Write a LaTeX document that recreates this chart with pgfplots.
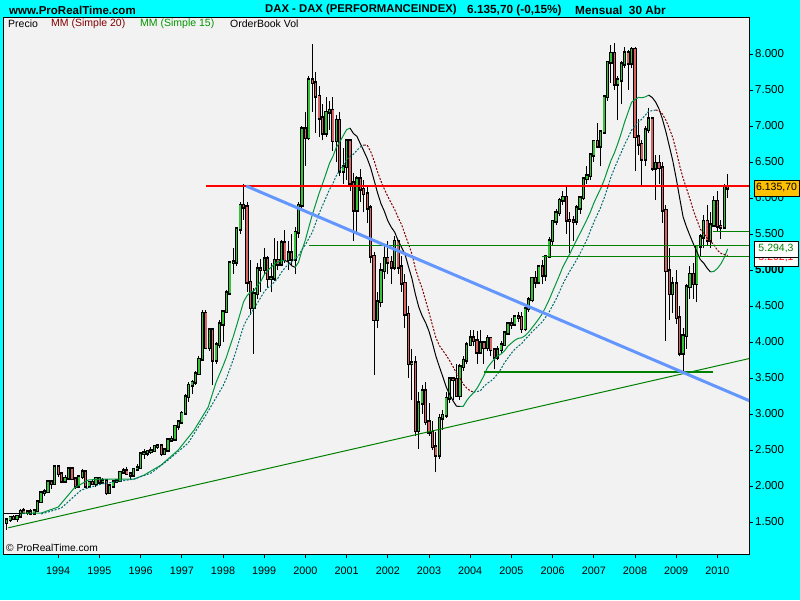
\documentclass[border=0pt]{standalone}
\usepackage{pgfplots}
\pgfplotsset{compat=1.18}
\usepackage{pgfplotstable}
\usepackage{fontspec}
\setmainfont{Liberation Sans}
\definecolor{bgcyan}{RGB}{0,255,255}
\definecolor{plotbg}{RGB}{242,242,242}
\definecolor{cgreen}{RGB}{55,195,55}
\definecolor{cred}{RGB}{215,100,100}
\definecolor{magreen}{RGB}{0,150,60}
\definecolor{mateal}{RGB}{0,110,110}
\definecolor{madred}{RGB}{128,0,0}
\definecolor{lgreen}{RGB}{0,128,0}
\definecolor{lblue}{RGB}{100,150,255}
\definecolor{lorange}{RGB}{255,192,0}
\definecolor{legred}{RGB}{128,0,0}
\definecolor{leggreen}{RGB}{0,150,0}

\pgfplotstableread{
t o h l c
1992.750 1490 1560 1390 1530
1992.833 1530 1590 1500 1565
1992.917 1565 1600 1530 1545
1993.000 1545 1590 1500 1580
1993.083 1580 1680 1570 1650
1993.167 1660 1700 1610 1630
1993.250 1630 1670 1600 1645
1993.333 1645 1680 1610 1625
1993.417 1625 1680 1610 1660
1993.500 1660 1790 1650 1780
1993.583 1780 1920 1770 1905
1993.667 1905 1960 1860 1920
1993.750 1920 2080 1900 2055
1993.833 2055 2080 1960 2030
1993.917 2030 2290 2020 2267
1994.000 2267 2290 2120 2170
1994.083 2170 2200 2040 2070
1994.167 2070 2150 2050 2110
1994.250 2110 2270 2080 2240
1994.333 2240 2260 2080 2100
1994.417 2100 2130 1960 2000
1994.500 2000 2150 1980 2130
1994.583 2130 2230 2100 2200
1994.667 2200 2210 1980 2000
1994.750 2000 2070 1970 2050
1994.833 2050 2090 2010 2030
1994.917 2030 2120 1990 2107
1995.000 2107 2120 2020 2050
1995.083 2050 2110 2030 2070
1995.167 2070 2080 1880 1910
1995.250 1910 2010 1900 2000
1995.333 2000 2080 1990 2060
1995.417 2060 2100 2040 2075
1995.500 2075 2200 2060 2190
1995.583 2190 2250 2170 2210
1995.667 2210 2260 2150 2170
1995.750 2170 2200 2100 2150
1995.833 2150 2240 2130 2230
1995.917 2230 2300 2220 2254
1996.000 2254 2470 2250 2450
1996.083 2450 2510 2380 2460
1996.167 2460 2500 2420 2480
1996.250 2480 2540 2450 2490
1996.333 2490 2570 2470 2550
1996.417 2550 2580 2520 2560
1996.500 2560 2580 2420 2450
1996.583 2450 2510 2440 2500
1996.667 2500 2650 2480 2640
1996.750 2640 2700 2620 2650
1996.833 2650 2850 2640 2830
1996.917 2830 2900 2780 2889
1997.000 2889 3040 2870 3010
1997.083 3010 3280 3000 3240
1997.167 3240 3440 3170 3400
1997.250 3400 3470 3280 3440
1997.333 3440 3600 3400 3560
1997.417 3560 3800 3540 3760
1997.500 3760 4440 3740 4400
1997.583 4400 4450 3900 3920
1997.667 3920 4200 3880 4170
1997.750 4170 4200 3400 3750
1997.833 3750 4000 3700 3960
1997.917 3960 4300 3920 4250
1998.000 4250 4450 4000 4420
1998.083 4420 4720 4400 4680
1998.167 4680 5120 4650 5100
1998.250 5100 5300 4950 5110
1998.333 5110 5600 5050 5570
1998.417 5570 5950 5500 5900
1998.500 5900 6190 5700 5875
1998.583 5875 5950 4700 4830
1998.667 4830 5140 4380 4474
1998.750 4474 4750 3840 4671
1998.833 4671 5100 4600 5014
1998.917 5014 5150 4700 5002
1999.000 5002 5300 4950 5153
1999.083 5153 5200 4750 4880
1999.167 4880 5100 4700 4890
1999.250 4890 5450 4850 5135
1999.333 5135 5400 5000 5080
1999.417 5080 5420 5050 5378
1999.500 5378 5550 5100 5145
1999.583 5145 5400 5000 5235
1999.667 5235 5500 5050 5150
1999.750 5150 5600 4950 5525
1999.833 5525 5950 5450 5900
1999.917 5900 7000 5850 6958
2000.000 6958 7200 6450 6835
2000.083 6835 7700 6800 7644
2000.167 7644 8136 7200 7599
2000.250 7599 7750 6900 7414
2000.333 7414 7550 6850 7110
2000.417 7110 7300 6800 6898
2000.500 6898 7400 6850 7191
2000.583 7191 7350 6950 7216
2000.667 7216 7400 6650 6798
2000.750 6798 7150 6500 7077
2000.833 7077 7200 6300 6372
2000.917 6372 6700 6200 6434
2001.000 6434 6800 6250 6795
2001.083 6795 6820 6100 6208
2001.167 6208 6350 5400 5830
2001.250 5830 6300 5500 6265
2001.333 6265 6400 5950 6123
2001.417 6123 6250 5800 6058
2001.500 6058 6150 5650 5861
2001.583 5861 5900 5100 5188
2001.667 5188 5250 3540 4308
2001.750 4308 4700 4200 4560
2001.833 4560 5100 4480 4990
2001.917 4990 5350 4880 5160
2002.000 5160 5400 4950 5108
2002.083 5108 5200 4800 5039
2002.167 5039 5470 5000 5397
2002.250 5397 5420 4950 5041
2002.333 5041 5200 4700 4818
2002.417 4818 4950 4200 4383
2002.500 4383 4500 3500 3700
2002.583 3700 3900 3200 3712
2002.667 3712 3800 2700 2769
2002.750 2769 3300 2520 3153
2002.833 3153 3400 3000 3320
2002.917 3320 3450 2850 2893
2003.000 2893 3160 2700 2748
2003.083 2748 2900 2500 2547
2003.167 2547 2750 2190 2424
2003.250 2424 3000 2380 2942
2003.333 2942 3050 2780 2982
2003.417 2982 3300 2950 3220
2003.500 3220 3500 3150 3487
2003.583 3487 3500 3200 3480
2003.667 3480 3700 3250 3257
2003.750 3257 3700 3200 3655
2003.833 3655 3800 3600 3745
2003.917 3745 4000 3700 3965
2004.000 3965 4170 3950 4058
2004.083 4058 4160 3950 4018
2004.167 4018 4150 3690 3856
2004.250 3856 4160 3830 3985
2004.333 3985 4000 3700 3921
2004.417 3921 4100 3870 4052
2004.500 4052 4060 3800 3895
2004.583 3895 3900 3620 3785
2004.667 3785 3950 3750 3893
2004.750 3893 4020 3840 3960
2004.833 3960 4150 3950 4126
2004.917 4126 4270 4100 4256
2005.000 4256 4330 4180 4250
2005.083 4250 4380 4240 4350
2005.167 4350 4420 4280 4345
2005.250 4345 4420 4130 4185
2005.333 4185 4480 4150 4460
2005.417 4460 4630 4420 4586
2005.500 4586 4900 4550 4886
2005.583 4886 4980 4750 4830
2005.667 4830 5050 4800 5044
2005.750 5044 5140 4800 4929
2005.833 4929 5200 4850 5193
2005.917 5193 5460 5180 5408
2006.000 5408 5700 5350 5674
2006.083 5674 5850 5620 5797
2006.167 5797 6000 5750 5970
2006.250 5970 6100 5900 6009
2006.333 6009 6160 5500 5692
2006.417 5692 5800 5243 5683
2006.500 5683 5750 5400 5678
2006.583 5678 5900 5620 5860
2006.667 5860 6030 5780 6004
2006.750 6004 6290 5970 6269
2006.833 6269 6440 6200 6309
2006.917 6309 6630 6250 6597
2007.000 6597 6800 6500 6789
2007.083 6789 7040 6700 6716
2007.167 6716 6940 6440 6917
2007.250 6917 7420 6900 7409
2007.333 7409 7900 7350 7883
2007.417 7883 8130 7600 8007
2007.500 8007 8150 7500 7584
2007.583 7584 7700 7080 7638
2007.667 7638 7900 7300 7862
2007.750 7862 8100 7800 8020
2007.833 8020 8060 7500 7871
2007.917 7871 8100 7800 8067
2008.000 8067 8100 6380 6852
2008.083 6852 7100 6600 6748
2008.167 6748 6800 6170 6535
2008.250 6535 7000 6450 6949
2008.333 6949 7250 6900 7097
2008.417 7097 7100 6380 6418
2008.500 6418 6600 5970 6480
2008.583 6480 6600 6200 6422
2008.667 6422 6500 5650 5831
2008.750 5831 5900 4014 4988
2008.833 4988 5300 4300 4669
2008.917 4669 4900 4400 4810
2009.000 4810 5000 4250 4338
2009.083 4338 4500 3800 3843
2009.167 3843 4200 3589 4085
2009.250 4085 4800 3900 4770
2009.333 4770 5050 4600 4941
2009.417 4941 5100 4600 4809
2009.500 4809 5350 4550 5332
2009.583 5332 5500 5200 5458
2009.667 5458 5760 5300 5675
2009.750 5675 5900 5330 5415
2009.833 5415 5800 5300 5625
2009.917 5625 6030 5600 5957
2010.000 5957 6100 5540 5608
2010.083 5608 5700 5430 5598
2010.167 5598 6200 5580 6154
2010.250 6154 6340 6000 6136
}\dax

\begin{document}
\begin{tikzpicture}[x=1pt,y=1pt]
\useasboundingbox (0,0) rectangle (800,600);
\fill[bgcyan] (0,0) rectangle (800,600);
\begin{axis}[
  at={(3pt,46pt)}, anchor=south west,
  width=746pt, height=536pt, scale only axis,
  xmin=1992.66, xmax=2010.767, ymin=1056, ymax=8500,
  axis background/.style={fill=plotbg},
  axis line style={black, line width=1pt},
  xtick={1994,1995,1996,1997,1998,1999,2000,2001,2002,2003,2004,2005,2006,2007,2008,2009,2010},
  xticklabels={1994,1995,1996,1997,1998,1999,2000,2001,2002,2003,2004,2005,2006,2007,2008,2009,2010},
  ytick={1500,2000,2500,3000,3500,4000,4500,5000,5500,6000,6500,7000,7500,8000},
  yticklabels={1.500,2.000,2.500,3.000,3.500,4.000,4.500,\textbf{5.000},5.500,6.000,6.500,7.000,7.500,8.000},
  xtick pos=bottom, ytick pos=right, yticklabel pos=right,
  tick align=outside, major tick length=4pt,
  tick style={black, line width=0.8pt},
  x tick label style={font=\fontsize{10.8}{12}\selectfont, inner sep=0pt, yshift=-8.5pt},
  y tick label style={font=\fontsize{11.5}{12}\selectfont, anchor=west, inner sep=0pt, xshift=2pt},
  clip=true,
]
% wicks
\addplot[black, line width=1pt, arrows=-, mark=none,
  quiver={u=0, v=\thisrow{h}-\thisrow{l}}] table[x=t, y=l] {\dax};
% bodies outline
\addplot[black, line width=3.2pt, arrows=-, mark=none,
  quiver={u=0, v=\thisrow{c}-\thisrow{o}, every arrow/.append style={line cap=rect, line width=3.2pt}}] table[x=t, y=o] {\dax};
% up bodies fill
\addplot[cgreen, line width=1.4pt, arrows=-, mark=none,
  x filter/.expression={\thisrow{c}>\thisrow{o} ? x : nan},
  quiver={u=0, v=\thisrow{c}-\thisrow{o}, every arrow/.append style={line cap=butt, line width=1.4pt}}] table[x=t, y=o] {\dax};
% down bodies fill
\addplot[cred, line width=1.4pt, arrows=-, mark=none,
  x filter/.expression={\thisrow{c}<\thisrow{o} ? x : nan},
  quiver={u=0, v=\thisrow{c}-\thisrow{o}, every arrow/.append style={line cap=butt, line width=1.4pt}}] table[x=t, y=o] {\dax};

% MM 15 (solid: green rising, black falling)
\addplot[black, line width=1pt, mark=none] coordinates {(1992.66,1625) (1993.10,1625)};
\addplot[magreen, line width=1pt, mark=none] coordinates {
(1993.10,1625) (1993.587,1625) (1994.000,1708) (1994.388,1972) (1994.728,2083) (1995.044,2097) (1995.845,2097) (1996.087,2153) (1996.500,2292) (1996.913,2500) (1997.301,2778) (1997.641,3097) (1997.833,3441) (1998.000,3667) (1998.083,3790) (1998.167,3937) (1998.250,4077) (1998.333,4233) (1998.417,4397) (1998.500,4560) (1998.583,4644) (1998.667,4692) (1998.750,4710) (1998.833,4783) (1998.917,4840) (1999.000,4934) (1999.083,4995) (1999.167,5038) (1999.250,5085) (1999.333,5112) (1999.417,5130) (1999.500,5133)};
\addplot[black, line width=1pt, mark=none] coordinates {
(1999.500,5133) (1999.583,5110) (1999.667,5060) (1999.750,5037)};
\addplot[magreen, line width=1pt, mark=none] coordinates {
(1999.750,5037) (1999.833,5108) (1999.917,5274) (2000.000,5418) (2000.083,5594) (2000.167,5767) (2000.250,5917) (2000.333,6066) (2000.417,6200) (2000.500,6337) (2000.583,6480) (2000.667,6575) (2000.750,6703) (2000.833,6779) (2000.917,6865) (2001.000,6949) (2001.083,6970)};
\addplot[black, line width=1pt, mark=none] coordinates {
(2001.083,6970) (2001.167,6895) (2001.250,6857) (2001.333,6755) (2001.417,6653) (2001.500,6549) (2001.583,6421) (2001.667,6248) (2001.750,6073) (2001.833,5924) (2001.917,5815) (2002.000,5684) (2002.083,5595) (2002.167,5526) (2002.250,5409) (2002.333,5316) (2002.417,5220) (2002.500,5049) (2002.583,4888) (2002.667,4669) (2002.750,4488) (2002.833,4364) (2002.917,4270) (2003.000,4149) (2003.083,3986) (2003.167,3803) (2003.250,3659) (2003.333,3522) (2003.417,3377) (2003.500,3273) (2003.583,3184) (2003.667,3109) (2003.750,3106)};
\addplot[magreen, line width=1pt, mark=none] coordinates {
(2003.750,3106) (2003.833,3108) (2003.917,3188) (2004.000,3248) (2004.083,3295) (2004.167,3359) (2004.250,3442) (2004.333,3533) (2004.417,3642) (2004.500,3705) (2004.583,3759) (2004.667,3804) (2004.750,3835) (2004.833,3878) (2004.917,3945) (2005.000,3985) (2005.083,4025) (2005.167,4051) (2005.250,4059) (2005.333,4088) (2005.417,4137) (2005.500,4197) (2005.583,4258) (2005.667,4324) (2005.750,4393) (2005.833,4487) (2005.917,4588) (2006.000,4702) (2006.083,4813) (2006.167,4928) (2006.250,5045) (2006.333,5134) (2006.417,5223) (2006.500,5323) (2006.583,5416) (2006.667,5511) (2006.750,5603) (2006.833,5701) (2006.917,5805) (2007.000,5929) (2007.083,6031) (2007.167,6131) (2007.250,6247) (2007.333,6386) (2007.417,6522) (2007.500,6627) (2007.583,6756) (2007.667,6902) (2007.750,7058) (2007.833,7192) (2007.917,7329) (2008.000,7368) (2008.083,7397) (2008.167,7393) (2008.250,7404) (2008.333,7429)};
\addplot[black, line width=1pt, mark=none] coordinates {
(2008.333,7429) (2008.417,7396) (2008.500,7334) (2008.583,7237) (2008.667,7092) (2008.750,6919) (2008.833,6721) (2008.917,6517) (2009.000,6272) (2009.083,6003) (2009.167,5738) (2009.250,5599) (2009.333,5478) (2009.417,5363) (2009.500,5256) (2009.583,5146) (2009.667,5097) (2009.750,5026) (2009.833,4973)};
\addplot[magreen, line width=1pt, mark=none] coordinates {
(2009.833,4973) (2009.917,4981) (2010.000,5022) (2010.083,5084) (2010.167,5174) (2010.250,5294)};

% MM 20 (dashed: teal rising, dark red falling)
\addplot[mateal, line width=1pt, dash pattern=on 2pt off 1.5pt, mark=none] coordinates {
(1993.587,1611) (1994.073,1694) (1994.558,1944) (1995.044,2028) (1995.845,2097) (1996.257,2181) (1996.670,2361) (1997.155,2597) (1997.583,2984) (1998.000,3390) (1998.083,3496) (1998.167,3628) (1998.250,3759) (1998.333,3905) (1998.417,4068) (1998.500,4220) (1998.583,4317) (1998.667,4390) (1998.750,4462) (1998.833,4541) (1998.917,4619) (1999.000,4699) (1999.083,4755) (1999.167,4779) (1999.250,4840) (1999.333,4887) (1999.417,4968) (1999.500,5028) (1999.583,5077) (1999.667,5113) (1999.750,5156) (1999.833,5196) (1999.917,5288) (2000.000,5351) (2000.083,5438) (2000.167,5525) (2000.250,5654) (2000.333,5786) (2000.417,5897) (2000.500,6006) (2000.583,6117) (2000.667,6199) (2000.750,6309) (2000.833,6383) (2000.917,6448) (2001.000,6534) (2001.083,6575) (2001.167,6609) (2001.250,6661) (2001.333,6710) (2001.417,6736)};
\addplot[madred, line width=1pt, dash pattern=on 2pt off 1.5pt, mark=none] coordinates {
(2001.417,6736) (2001.500,6734) (2001.583,6646) (2001.667,6519) (2001.750,6365) (2001.833,6235) (2001.917,6122) (2002.000,6022) (2002.083,5929) (2002.167,5839) (2002.250,5731) (2002.333,5632) (2002.417,5497) (2002.500,5363) (2002.583,5227) (2002.667,5026) (2002.750,4873) (2002.833,4748) (2002.917,4579) (2003.000,4410) (2003.083,4235) (2003.167,4063) (2003.250,3951) (2003.333,3884) (2003.417,3817) (2003.500,3742) (2003.583,3658) (2003.667,3566) (2003.750,3497) (2003.833,3414) (2003.917,3360) (2004.000,3322) (2004.083,3304)};
\addplot[mateal, line width=1pt, dash pattern=on 2pt off 1.5pt, mark=none] coordinates {
(2004.083,3304) (2004.167,3312) (2004.250,3325) (2004.333,3383) (2004.417,3428) (2004.500,3457) (2004.583,3501) (2004.667,3559) (2004.750,3629) (2004.833,3714) (2004.917,3780) (2005.000,3844) (2005.083,3900) (2005.167,3943) (2005.250,3978) (2005.333,4038) (2005.417,4085) (2005.500,4142) (2005.583,4185) (2005.667,4235) (2005.750,4280) (2005.833,4347) (2005.917,4418) (2006.000,4506) (2006.083,4593) (2006.167,4697) (2006.250,4808) (2006.333,4898) (2006.417,4984) (2006.500,5062) (2006.583,5142) (2006.667,5230) (2006.750,5325) (2006.833,5423) (2006.917,5544) (2007.000,5661) (2007.083,5767) (2007.167,5869) (2007.250,5998) (2007.333,6139) (2007.417,6293) (2007.500,6413) (2007.583,6524) (2007.667,6634) (2007.750,6745) (2007.833,6840) (2007.917,6943) (2008.000,7001) (2008.083,7054) (2008.167,7097) (2008.250,7151) (2008.333,7206) (2008.417,7213) (2008.500,7222)};
\addplot[madred, line width=1pt, dash pattern=on 2pt off 1.5pt, mark=none] coordinates {
(2008.500,7222) (2008.583,7213) (2008.667,7165) (2008.750,7079) (2008.833,6967) (2008.917,6837) (2009.000,6659) (2009.083,6451) (2009.167,6276) (2009.250,6133) (2009.333,5987) (2009.417,5826) (2009.500,5699) (2009.583,5569) (2009.667,5510) (2009.750,5443) (2009.833,5398) (2009.917,5348) (2010.000,5274) (2010.083,5233) (2010.167,5216) (2010.250,5202)};

% drawn trend lines
\addplot[lgreen, line width=1pt, mark=none] coordinates {(1992.79,1420) (2010.77,3770)};
\addplot[red, line width=1.2pt, mark=none] coordinates {(1997.59,6167) (2010.77,6167)};
\addplot[lgreen, line width=1pt, mark=none] coordinates {(2000.09,5347) (2010.77,5347)};
\addplot[lgreen, line width=1pt, mark=none] coordinates {(2005.75,5194) (2010.77,5194)};
\addplot[lgreen, line width=1pt, mark=none] coordinates {(2009.90,5528) (2010.77,5528)};
\addplot[lgreen, line width=2.5pt, mark=none] coordinates {(2004.34,3583) (2009.90,3583)};
\addplot[lblue, line width=3pt, mark=none] coordinates {(1998.563,6167) (2010.77,3186)};
\end{axis}

% titles
\node[anchor=west, inner sep=0pt, font=\fontsize{11.5}{14}\selectfont\bfseries] at (9,590) {www.ProRealTime.com};
\node[anchor=west, inner sep=0pt, font=\fontsize{11.3}{14}\selectfont\bfseries] at (265,590) {DAX - DAX (PERFORMANCEINDEX)};
\node[anchor=west, inner sep=0pt, font=\fontsize{11.8}{14}\selectfont\bfseries] at (467,590) {6.135,70 (-0,15\%)};
\node[anchor=west, inner sep=0pt, font=\fontsize{11.8}{14}\selectfont\bfseries] at (575,590) {Mensual\ \ 30 Abr};
% legend
\node[anchor=west, inner sep=0pt, font=\fontsize{10.5}{12}\selectfont] at (8,576) {Precio};
\node[anchor=west, inner sep=0pt, font=\fontsize{10.5}{12}\selectfont, text=legred] at (51,576) {MM (Simple 20)};
\node[anchor=west, inner sep=0pt, font=\fontsize{10.5}{12}\selectfont, text=leggreen] at (140,576) {MM (Simple 15)};
\node[anchor=west, inner sep=0pt, font=\fontsize{10.5}{12}\selectfont] at (230,576) {OrderBook Vol};
% copyright
\node[anchor=west, inner sep=0pt, font=\fontsize{10.2}{12}\selectfont] at (6,52) {\textcopyright\ ProRealTime.com};
% right value labels
\node[draw=black, fill=white, text=red, line width=0.8pt, inner sep=1.5pt, minimum width=44pt, minimum height=16pt, font=\fontsize{10.5}{12}\selectfont] at (776,342) {5.202,1};
\node[draw=black, fill=white, text=lgreen, line width=0.8pt, inner sep=1.5pt, minimum width=44pt, minimum height=16pt, font=\fontsize{10.5}{12}\selectfont] at (776,351) {5.294,3};
\node[draw=black, fill=lorange, text=black, line width=0.8pt, inner sep=1.5pt, minimum width=45pt, minimum height=16pt, font=\fontsize{10.5}{12}\selectfont] at (776.5,412) {6.135,70};
\end{tikzpicture}
\end{document}
